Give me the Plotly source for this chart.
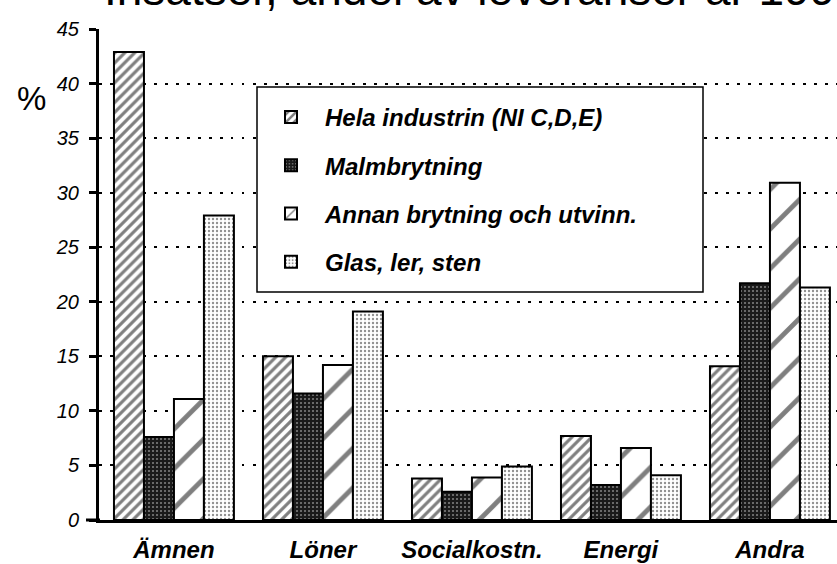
import plotly.graph_objects as go

categories = ["Ämnen", "Löner", "Socialkostn.", "Energi", "Andra"]
series_names = ["Hela industrin (NI C,D,E)", "Malmbrytning",
                "Annan brytning och utvinn.", "Glas, ler, sten"]
hela = [42.9, 15.0, 3.8, 7.7, 14.1]
malm = [7.6, 11.6, 2.6, 3.2, 21.7]
annan = [11.1, 14.2, 3.9, 6.6, 30.9]
glas = [27.9, 19.1, 4.9, 4.1, 21.3]
y_ticks = [0, 5, 10, 15, 20, 25, 30, 35, 40, 45]
title_text = "Insatser, andel av leveranser år 1990"

W, H = 837, 564
L, R, T, B = 99, 0, 29, 44
pw, ph = W - L - R, H - T - B

def px_x(p):
    return (p - L) / pw

def px_y(p):
    return (H - B - p) / ph

styles = [
    dict(color="white", pattern=dict(shape="/", size=7, solidity=0.45, fgcolor="black", bgcolor="white")),
    dict(color="#1a1a1a", pattern=dict(shape=".", size=4, solidity=0.22, fgcolor="#e0e0e0", bgcolor="#1a1a1a")),
    dict(color="white", pattern=dict(shape="/", size=28, solidity=0.17, fgcolor="black", bgcolor="white")),
    dict(color="white", pattern=dict(shape=".", size=4, solidity=0.28, fgcolor="#222222", bgcolor="white")),
]

fig = go.Figure()
for i, (name, vals) in enumerate(zip(series_names, [hela, malm, annan, glas])):
    st = styles[i]
    fig.add_trace(go.Bar(
        x=categories, y=vals, name=name, legendgroup=f"g{i}",
        marker=dict(color=st["color"], pattern=st["pattern"],
                    line=dict(color="black", width=2)),
    ))

font_fam = "Liberation Sans, Arial, sans-serif"

fig.update_layout(
    width=W, height=H,
    margin=dict(l=L, r=R, t=T, b=B, pad=0),
    paper_bgcolor="white", plot_bgcolor="white",
    barmode="group", bargap=0.195, bargroupgap=0,
    showlegend=True,
    legend=dict(
        x=px_x(257), y=px_y(95), xanchor="left", yanchor="top",
        bgcolor="rgba(0,0,0,0)", borderwidth=0,
        font=dict(family=font_fam, size=24, color="black", weight="bold", style="italic"),
        tracegroupgap=14, itemwidth=58,
        traceorder="grouped",
    ),
    xaxis=dict(
        range=[-0.503, 4.45], showgrid=False, showline=True, linecolor="black",
        linewidth=3, ticks="", tickfont=dict(family=font_fam, size=24, color="black",
                                             weight="bold", style="italic"),
        ticklabelstandoff=6, zeroline=False, fixedrange=True,
    ),
    yaxis=dict(
        range=[0, 45], tickvals=y_ticks, showline=True, linecolor="black",
        linewidth=3, ticks="outside", ticklen=7, tickwidth=3, tickcolor="black",
        tickfont=dict(family=font_fam, size=20, color="black", style="italic"),
        ticklabelstandoff=6,
        showgrid=True, gridcolor="black", gridwidth=2, griddash="2.5px,8.5px",
        zeroline=False, fixedrange=True,
    ),
    shapes=[
        dict(type="rect", xref="paper", yref="paper",
             x0=px_x(257), x1=px_x(703), y0=px_y(292), y1=px_y(87),
             fillcolor="white", line=dict(color="black", width=1.5), layer="above"),
        dict(type="line", xref="paper", yref="paper",
             x0=px_x(86), x1=px_x(100), y0=0, y1=0,
             line=dict(color="black", width=3)),
    ],
    annotations=[
        dict(text=title_text, xref="paper", yref="paper", x=px_x(102), y=px_y(-11),
             xanchor="left", yanchor="middle", showarrow=False,
             font=dict(family=font_fam, size=46, color="black")),
        dict(text="%", xref="paper", yref="paper", x=px_x(31), y=px_y(98),
             xanchor="center", yanchor="middle", showarrow=False,
             font=dict(family=font_fam, size=33, color="black")),
    ],
)

fig.write_html("out.html", config={"displayModeBar": False},
               post_script="document.body.style.margin='0';")
